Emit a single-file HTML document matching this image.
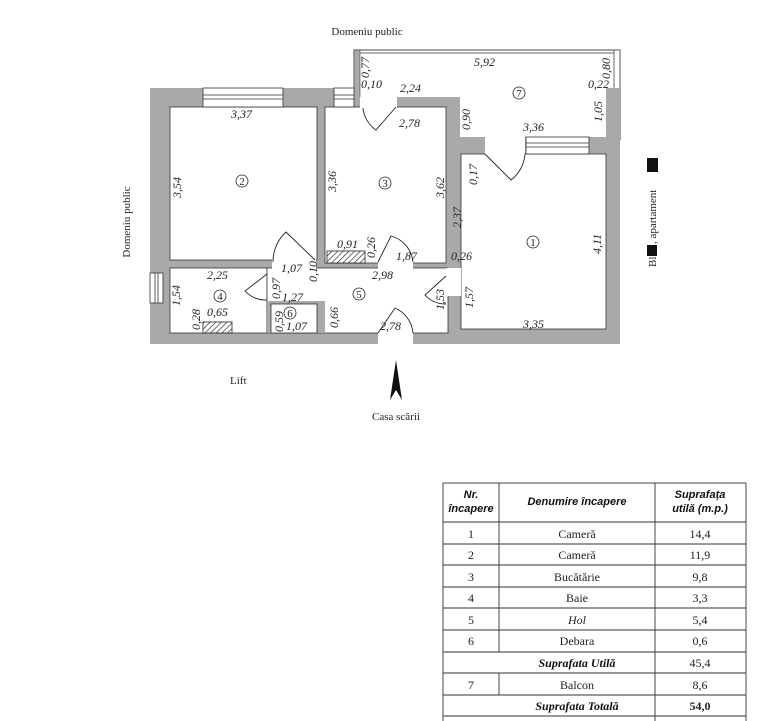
<!DOCTYPE html>
<html><head><meta charset="utf-8"><style>
html,body{margin:0;padding:0;background:#fff;width:759px;height:721px;overflow:hidden}
svg{display:block}
.d{font-family:"Liberation Serif",serif;font-style:italic;font-size:12px;fill:#222}
.l{font-family:"Liberation Serif",serif;font-size:11px;fill:#222}
.c{font-family:"Liberation Serif",serif;font-size:11px;fill:#222;text-anchor:middle}
.th{font-family:"Liberation Sans",sans-serif;font-style:italic;font-weight:bold;font-size:11px;fill:#111;text-anchor:middle}
.td{font-family:"Liberation Serif",serif;font-size:12px;fill:#222;text-anchor:middle}
.tb{font-family:"Liberation Serif",serif;font-style:italic;font-weight:bold;font-size:12px;fill:#111;text-anchor:middle}
</style></head><body>
<svg width="759" height="721" viewBox="0 0 759 721" xmlns="http://www.w3.org/2000/svg">
<defs>
<pattern id="h" width="4" height="4" patternUnits="userSpaceOnUse" patternTransform="rotate(45)"><rect width="4" height="4" fill="#fff"/><line x1="0" y1="0" x2="0" y2="4" stroke="#222" stroke-width="1.3"/></pattern>
</defs>
<text x="367" y="35" class="c">Domeniu public</text>
<text transform="translate(130,222) rotate(-90)" class="c">Domeniu public</text>
<rect x="354" y="50" width="266" height="90" fill="#fff" stroke="#444" stroke-width="1"/>
<line x1="354" y1="53" x2="620" y2="53" stroke="#666"/>
<rect x="354" y="50" width="6" height="57" fill="#aaa" stroke="#444" stroke-width="0.6"/>
<rect x="614" y="50" width="6" height="40" fill="#fff" stroke="#444" stroke-width="0.8"/>
<polygon points="150,88 355,88 355,97 460,97 460,137 620,137 620,344 150,344" fill="#a9a9a9"/>
<rect x="606" y="88" width="14" height="50" fill="#a9a9a9"/>
<rect x="460" y="137" width="25" height="17" fill="#a9a9a9"/>
<rect x="170" y="107" width="147" height="153" fill="#fff" stroke="#333" stroke-width="0.8"/>
<rect x="325" y="107" width="121" height="156" fill="#fff" stroke="#333" stroke-width="0.8"/>
<rect x="461" y="154" width="145" height="175" fill="#fff" stroke="#333" stroke-width="0.8"/>
<rect x="170" y="268" width="97" height="65" fill="#fff" stroke="#333" stroke-width="0.8"/>
<rect x="267" y="268" width="181" height="65" fill="#fff" stroke="#333" stroke-width="0.8"/>
<rect x="267" y="301" width="58" height="32" fill="#a9a9a9"/>
<rect x="271" y="304" width="46" height="29" fill="#fff" stroke="#333" stroke-width="0.8"/>
<rect x="446" y="268" width="15" height="28" fill="#fff"/>
<rect x="360" y="97" width="37" height="11" fill="#fff"/>
<rect x="485" y="137" width="40" height="18" fill="#fff"/>
<rect x="272" y="259" width="44" height="10" fill="#fff"/>
<rect x="378" y="262" width="35" height="7" fill="#fff"/>
<rect x="378" y="332" width="35" height="13" fill="#fff"/>
<g fill="#fff" stroke="#333" stroke-width="0.8">
<rect x="203" y="88" width="80" height="19"/><line x1="203" y1="95" x2="283" y2="95"/><line x1="203" y1="99" x2="283" y2="99"/>
<rect x="334" y="88" width="20" height="19"/><line x1="334" y1="95" x2="354" y2="95"/><line x1="334" y1="99" x2="354" y2="99"/>
<rect x="526" y="137" width="63" height="17"/><line x1="526" y1="143" x2="589" y2="143"/><line x1="526" y1="147" x2="589" y2="147"/>
<rect x="150" y="273" width="13" height="30"/><line x1="155" y1="273" x2="155" y2="303"/><line x1="158" y1="273" x2="158" y2="303"/>
</g>
<g fill="none" stroke="#222" stroke-width="0.9">
<path d="M396,107 L376,130 A30,30 0 0 1 363,108"/>
<path d="M485,154 L511,180 A36,36 0 0 0 525,154"/>
<path d="M315,260 L286,232 A40,40 0 0 0 273,262"/>
<path d="M378,262 L391,236 A30,30 0 0 1 413,262"/>
<path d="M267,274 L245,291 A28,28 0 0 0 267,300"/>
<path d="M446,276 L425,295 A28,28 0 0 0 446,304"/>
<path d="M378,333 L395,308 A30,30 0 0 1 413,333"/>
</g>
<rect x="203" y="322" width="29" height="11" fill="url(#h)" stroke="#222" stroke-width="0.8"/>
<rect x="327" y="251" width="38" height="12" fill="url(#h)" stroke="#222" stroke-width="0.8"/>
<g fill="none" stroke="#222" stroke-width="0.8">
<circle cx="242" cy="181" r="6"/><circle cx="385" cy="183" r="6"/><circle cx="533" cy="242" r="6"/>
<circle cx="519" cy="93" r="6"/><circle cx="220" cy="296" r="6"/><circle cx="359" cy="294" r="6"/><circle cx="290" cy="313" r="6"/>
</g>
<g class="c" font-size="10">
<text x="242" y="185">2</text><text x="385" y="187">3</text><text x="533" y="246">1</text><text x="519" y="97">7</text><text x="220" y="300">4</text><text x="359" y="298">5</text><text x="290" y="317">6</text>
</g>
<g class="d">
<text x="231" y="118">3,37</text><text x="399" y="127">2,78</text><text x="400" y="92">2,24</text>
<text x="361" y="88">0,10</text><text x="474" y="66">5,92</text><text x="588" y="88">0,22</text>
<text x="523" y="131">3,36</text><text x="451" y="260">0,26</text><text x="396" y="260">1,87</text>
<text x="337" y="248">0,91</text><text x="372" y="279">2,98</text><text x="281" y="272">1,07</text>
<text x="207" y="279">2,25</text><text x="282" y="301">1,27</text><text x="207" y="316">0,65</text>
<text x="286" y="330">1,07</text><text x="380" y="330">2,78</text><text x="523" y="328">3,35</text>
</g>
<g class="d">
<text transform="translate(181,198) rotate(-90)">3,54</text>
<text transform="translate(336,192) rotate(-90)">3,36</text>
<text transform="translate(444,198) rotate(-90)">3,62</text>
<text transform="translate(369,78) rotate(-90)">0,77</text>
<text transform="translate(610,79) rotate(-90)">0,80</text>
<text transform="translate(470,130) rotate(-90)">0,90</text>
<text transform="translate(602,122) rotate(-90)">1,05</text>
<text transform="translate(477,185) rotate(-90)">0,17</text>
<text transform="translate(461,228) rotate(-90)">2,37</text>
<text transform="translate(601,254) rotate(-90)">4,11</text>
<text transform="translate(375,258) rotate(-90)">0,26</text>
<text transform="translate(317,282) rotate(-90)">0,10</text>
<text transform="translate(280,299) rotate(-90)">0,97</text>
<text transform="translate(180,306) rotate(-90)">1,54</text>
<text transform="translate(200,330) rotate(-90)">0,28</text>
<text transform="translate(283,332) rotate(-90)">0,59</text>
<text transform="translate(338,328) rotate(-90)">0,66</text>
<text transform="translate(444,310) rotate(-90)">1,53</text>
<text transform="translate(473,308) rotate(-90)">1,57</text>
</g>
<text x="230" y="384" class="l">Lift</text>
<polygon points="396,360 390,400 396,390 402,400" fill="#111"/>
<text x="396" y="420" class="c">Casa scării</text>
<text transform="translate(656,267) rotate(-90)" class="l" font-size="12">Bl</text>
<text transform="translate(656,244) rotate(-90)" class="l" font-size="12">, apartament</text>
<rect x="647" y="158" width="11" height="14" fill="#111"/>
<rect x="647" y="245" width="10" height="11" fill="#111"/>
<g stroke="#333" stroke-width="0.9" fill="none">
<rect x="443" y="483" width="303" height="240"/>
<line x1="443" y1="522" x2="746" y2="522"/>
<line x1="443" y1="544" x2="746" y2="544"/>
<line x1="443" y1="565" x2="746" y2="565"/>
<line x1="443" y1="587" x2="746" y2="587"/>
<line x1="443" y1="608" x2="746" y2="608"/>
<line x1="443" y1="630" x2="746" y2="630"/>
<line x1="443" y1="652" x2="746" y2="652"/>
<line x1="443" y1="673" x2="746" y2="673"/>
<line x1="443" y1="695" x2="746" y2="695"/>
<line x1="443" y1="716" x2="746" y2="716"/>
<line x1="499" y1="483" x2="499" y2="652"/>
<line x1="499" y1="673" x2="499" y2="695"/>
<line x1="655" y1="483" x2="655" y2="721"/>
</g>
<text x="471" y="498" class="th">Nr.</text><text x="471" y="512" class="th">încapere</text>
<text x="577" y="505" class="th">Denumire încapere</text>
<text x="700" y="498" class="th">Suprafața</text><text x="700" y="512" class="th">utilă (m.p.)</text>
<g class="td">
<text x="471" y="538">1</text><text x="577" y="538">Cameră</text><text x="700" y="538">14,4</text>
<text x="471" y="559">2</text><text x="577" y="559">Cameră</text><text x="700" y="559">11,9</text>
<text x="471" y="581">3</text><text x="577" y="581">Bucătărie</text><text x="700" y="581">9,8</text>
<text x="471" y="602">4</text><text x="577" y="602">Baie</text><text x="700" y="602">3,3</text>
<text x="471" y="624">5</text><text x="577" y="624" font-style="italic">Hol</text><text x="700" y="624">5,4</text>
<text x="471" y="645">6</text><text x="577" y="645">Debara</text><text x="700" y="645">0,6</text>
<text x="700" y="667">45,4</text>
<text x="471" y="689">7</text><text x="577" y="689">Balcon</text><text x="700" y="689">8,6</text>
</g>
<text x="577" y="667" class="tb">Suprafata Utilă</text>
<text x="577" y="710" class="tb">Suprafata Totală</text>
<text x="700" y="710" class="td" font-weight="bold">54,0</text>
</svg>
</body></html>
